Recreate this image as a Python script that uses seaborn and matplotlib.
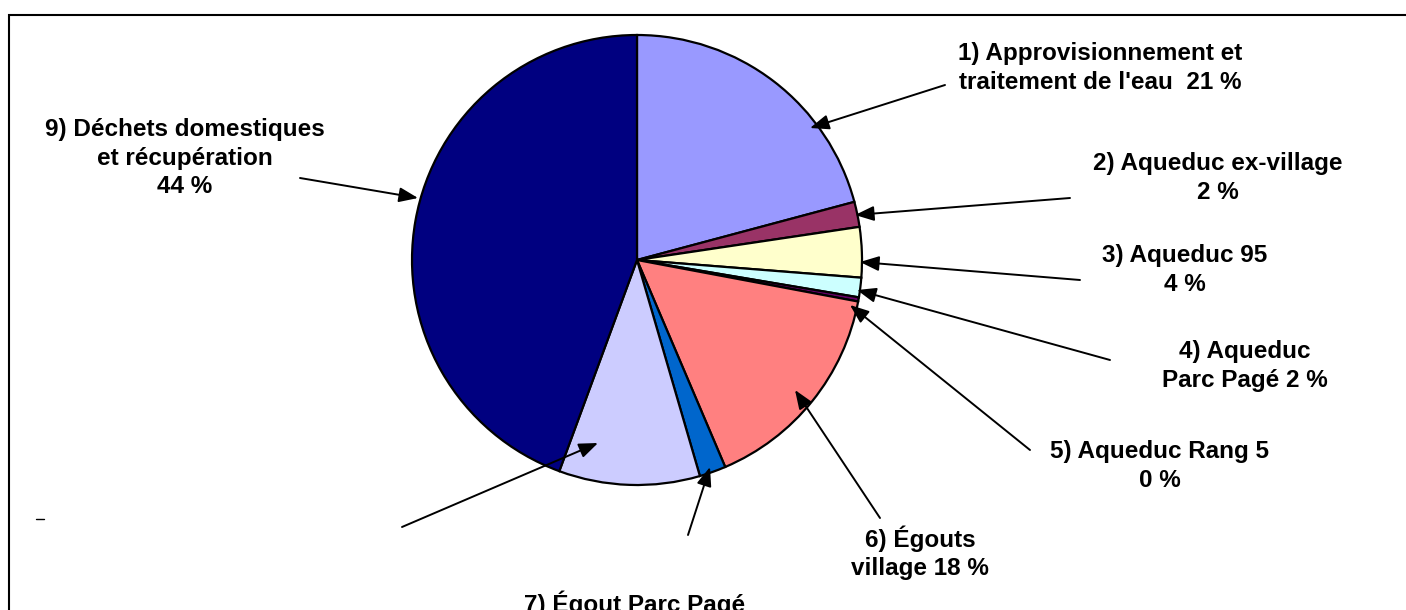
import numpy as np
import matplotlib
matplotlib.use('Agg')
import matplotlib.pyplot as plt
import seaborn as sns

sns.set_style('white')
plt.rcParams['font.family'] = ['Liberation Sans', 'DejaVu Sans']
plt.rcParams['text.color'] = 'black'

# slice shares (clockwise from 12 o'clock)
shares = [20.8, 1.8, 3.6, 1.4, 0.3, 15.6, 1.9, 10.1, 44.3]
colors = ['#9999FF', '#993366', '#FFFFCC', '#CCFFFF', '#660066',
          '#FF8080', '#0066CC', '#CCCCFF', '#000080']
labels = [
    "1) Approvisionnement et\ntraitement de l'eau  21 %",
    "2) Aqueduc ex-village\n2 %",
    "3) Aqueduc 95\n4 %",
    "4) Aqueduc\nParc Pagé 2 %",
    "5) Aqueduc Rang 5\n0 %",
    "6) Égouts\nvillage 18 %",
    "7) Égout Parc Pagé\n2 %",
    None,
    "9) Déchets domestiques\net récupération\n44 %",
]

W, H = 1406, 610
fig = plt.figure(figsize=(W / 100, H / 100), dpi=100)
ax = fig.add_axes([0, 0, 1, 1])

cx, cy, r = 637, H - 260, 225
ax.pie(shares, colors=colors, startangle=90, counterclock=False,
       center=(cx, cy), radius=r, frame=True,
       wedgeprops=dict(edgecolor='black', linewidth=1.6))
ax.set_xlim(0, W)
ax.set_ylim(0, H)
ax.set_aspect('equal')
ax.axis('off')

# text position (px), arrow tail (px), arrow head (px)
text_pos = [(1100, 68), (1218, 178), (1185, 270), (1245, 366), (1160, 466),
            (920, 553), (635, 618), None, (185, 158)]
tails = [(945, 85), (1070, 198), (1080, 280), (1110, 360), (1030, 450),
         (880, 518), (688, 535), (402, 527), (300, 178)]
heads = [(810, 128), (855, 215), (860, 262), (857, 290), (850, 305),
         (795, 390), (710, 467), (598, 443), (418, 198)]

for lab, tp, tl, hd in zip(labels, text_pos, tails, heads):
    ax.annotate('', xy=(hd[0], H - hd[1]), xytext=(tl[0], H - tl[1]),
                arrowprops=dict(arrowstyle='-|>,head_length=1.15,head_width=0.45',
                                color='black', lw=1.4, shrinkA=0, shrinkB=0))
    if lab is not None:
        ax.text(tp[0], H - tp[1], lab, ha='center', va='center', color='black',
                fontsize=17.5, fontweight='bold', linespacing=1.3)

# small stray dash on the left
ax.plot([36, 44], [H - 519, H - 519], color='black', lw=1)

# outer frame (left and top edges visible)
fig.patches.append(plt.Rectangle((9 / W, -0.1), 1.2, (H - 15) / H + 0.1,
                                 transform=fig.transFigure, fill=False,
                                 edgecolor='black', lw=1.5))

fig.savefig('out.png', dpi=100)
